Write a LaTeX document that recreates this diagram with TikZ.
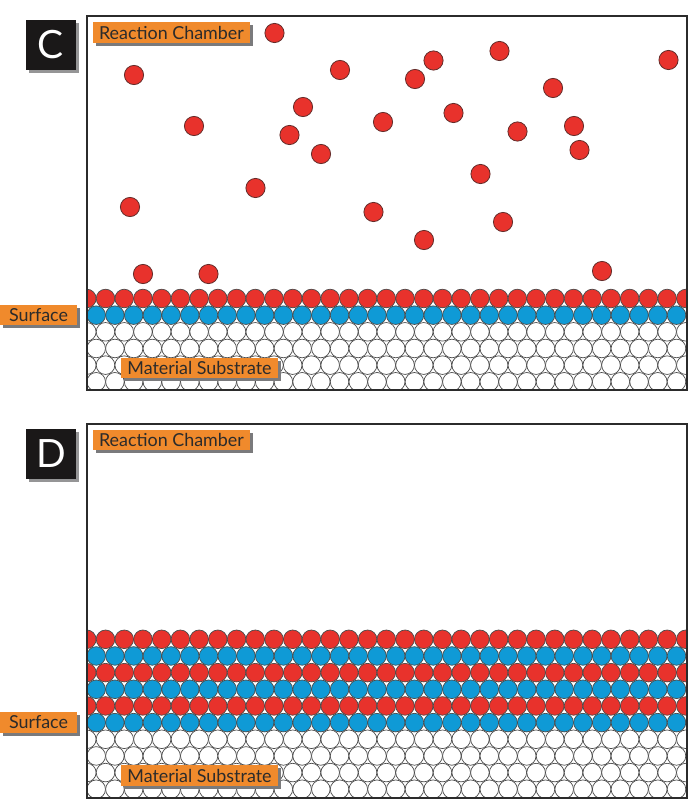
\documentclass[tikz,border=0pt]{standalone}
\usepackage{fontspec}
\setmainfont{Lato}
\usetikzlibrary{shadows}
\definecolor{molred}{HTML}{E8322C}
\definecolor{molblue}{HTML}{0F9AD6}
\definecolor{tagorange}{HTML}{F08A2C}
\definecolor{shadowgrey}{HTML}{7A7A7C}
\definecolor{inkdark}{HTML}{2B2B2B}
\definecolor{tilebox}{HTML}{1A1818}
\tikzset{
  x=1pt,y=-1pt,
  panelframe/.style={draw=inkdark,line width=1.5pt},
  tag/.style={fill=tagorange,text=inkdark,inner sep=0pt,font=\fontsize{17.9}{17.9}\selectfont,
    general shadow={fill=shadowgrey,shadow xshift=3pt,shadow yshift=-3pt}},
  tile/.style={fill=tilebox,text=white,inner sep=0pt,minimum width=50pt,minimum height=50pt,
    font=\fontsize{39}{39}\selectfont,
    general shadow={fill=shadowgrey!80,shadow xshift=3pt,shadow yshift=-3pt}},
  lattice/.style={draw=inkdark!85,line width=0.7pt},
  freemol/.style={fill=molred,draw=inkdark!70!molred,line width=0.8pt},
}
% #1 first y, #2 colour list (one colour per row, top to bottom)
\newcommand{\latticerows}[2]{%
  \foreach \rowcol [count=\rowidx from 0] in {#2}{%
    \pgfmathsetmacro{\rowy}{#1+16.66*\rowidx}%
    \pgfmathsetmacro{\rowoff}{ifthenelse(mod(\rowidx,2)==0,86.8,96.2)}%
    \foreach \k in {0,...,32}{%
      \pgfmathsetmacro{\rowx}{\rowoff+18.72*\k}%
      \path[lattice,fill=\rowcol] (\rowx,\rowy) circle[radius=9.3];
    }%
  }%
}
\begin{document}
\begin{tikzpicture}
\useasboundingbox (0,0) rectangle (691,800);
\fill[white] (0,0) rectangle (691,800);

% Panel C
\begin{scope}
  \clip (87,16) rectangle (687,390);
  \latticerows{298.5}{molred,molblue,white,white,white,white}
\end{scope}
\draw[panelframe] (87,16) rectangle (687,390);
\foreach \mx/\my in {274.5/33,134/75,340/70,433.5/60.5,415/79,499.5/51,668.5/60,553/88,303/107,194/126,
  289.5/135,383/122,453.5/113,517.5/131.5,574/126,579.5/150,321/154,480.5/174,255.5/188,130/207,373.5/212,
  503/222,424/240,143/274,208.5/274,602/271}
  \path[freemol] (\mx,\my) circle[radius=9.6];
\node[tile] (tileC) at (51,45) {C};
\node[tag,minimum width=157pt,minimum height=21pt] (chamberC) at (171.5,33) {Reaction Chamber};
\node[tag,minimum width=77pt,minimum height=20.5pt] (surfaceC) at (38.5,315) {Surface};
\node[tag,minimum width=157pt,minimum height=20.5pt] (substrateC) at (199.5,368) {Material Substrate};

% Panel D
\begin{scope}
  \clip (87,424) rectangle (687,798);
  \latticerows{639.3}{molred,molblue,molred,molblue,molred,molblue,white,white,white,white}
\end{scope}
\draw[panelframe] (87,424) rectangle (687,798);
\node[tile] (tileD) at (51,454) {D};
\node[tag,minimum width=157pt,minimum height=20.5pt] (chamberD) at (171.5,440) {Reaction Chamber};
\node[tag,minimum width=77pt,minimum height=20.5pt] (surfaceD) at (38.5,722.5) {Surface};
\node[tag,minimum width=157pt,minimum height=20.5pt] (substrateD) at (199.5,775.5) {Material Substrate};
\end{tikzpicture}
\end{document}
